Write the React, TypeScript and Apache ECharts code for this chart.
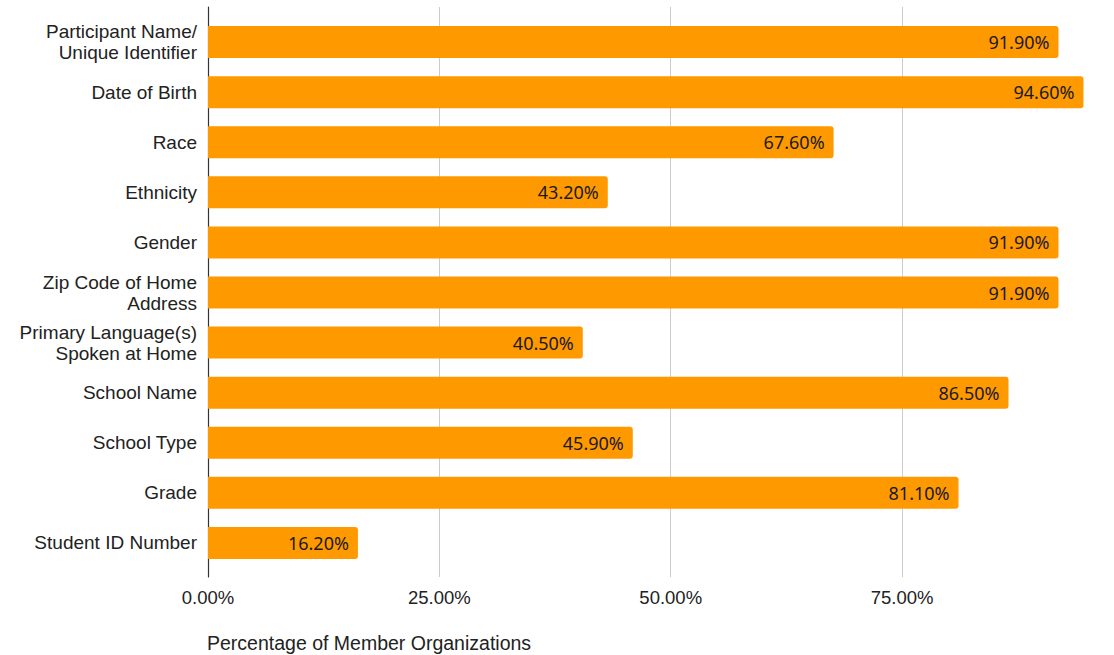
import React, { useEffect, useRef } from "react";
import * as echarts from "echarts";

const categories = [
  "Participant Name/\nUnique Identifier",
  "Date of Birth",
  "Race",
  "Ethnicity",
  "Gender",
  "Zip Code of Home\nAddress",
  "Primary Language(s)\nSpoken at Home",
  "School Name",
  "School Type",
  "Grade",
  "Student ID Number",
];
const values = [91.9, 94.6, 67.6, 43.2, 91.9, 91.9, 40.5, 86.5, 45.9, 81.1, 16.2];
const xMin = 0;
const xMax = 97.9;
const xInterval = 25;
const axisTitle = "Percentage of Member Organizations";

export default function App() {
  const ref = useRef<HTMLDivElement>(null);
  useEffect(() => {
    if (!ref.current) return;
    const chart = echarts.init(ref.current, null, { renderer: "svg" });
    const font = "'Liberation Sans', Arial, sans-serif";
    chart.setOption({
      animation: false,
      backgroundColor: "#ffffff",
      textStyle: { fontFamily: font },
      title: {
        text: axisTitle,
        left: 207,
        top: 633,
        padding: 0,
        textStyle: { fontSize: 19.5, fontWeight: "normal", color: "#222", fontFamily: font },
      },
      grid: [
        { left: 208, top: 17, height: 551, right: 0, containLabel: false },
        { left: 208, top: 7, height: 570, right: 0, containLabel: false },
      ],
      xAxis: [
        { type: "value", gridIndex: 0, min: xMin, max: xMax, show: false },
        {
          type: "value",
          gridIndex: 1,
          min: xMin,
          max: xMax,
          interval: xInterval,
          axisLine: { show: false },
          axisTick: { show: false },
          splitLine: { show: true, showMaxLine: false, lineStyle: { color: "#cccccc", width: 1 } },
          axisLabel: {
            fontSize: 18.5,
            color: "#222",
            margin: 11,
            showMaxLabel: false,
            formatter: (v: number) => v.toFixed(2) + "%",
          },
        },
      ],
      yAxis: [
        {
          type: "category",
          gridIndex: 0,
          inverse: true,
          data: categories,
          axisLine: { show: false },
          axisTick: { show: false },
          splitLine: { show: false },
          axisLabel: { fontSize: 19, color: "#222", margin: 11, lineHeight: 21, fontFamily: font },
        },
        {
          type: "value",
          gridIndex: 1,
          min: 0,
          max: 1,
          axisLine: { show: true, lineStyle: { color: "#333", width: 1.2 } },
          axisTick: { show: false },
          axisLabel: { show: false },
          splitLine: { show: false },
        },
      ],
      series: [
        {
          type: "bar",
          xAxisIndex: 0,
          yAxisIndex: 0,
          data: values,
          barWidth: 32,
          itemStyle: { color: "#FF9900", borderRadius: [0, 3, 3, 0] },
          label: {
            show: true,
            position: "insideRight",
            distance: 9,
            fontSize: 18,
            color: "#1a1a1a",
            fontFamily: "'Noto Sans', sans-serif",
            formatter: (p: any) => Number(p.value).toFixed(2) + "%",
          },
        },
      ],
    });
    return () => chart.dispose();
  }, []);
  return (
    <div
      ref={ref}
      style={{ position: "absolute", left: 0, top: 0, width: 1114, height: 655 }}
    />
  );
}
